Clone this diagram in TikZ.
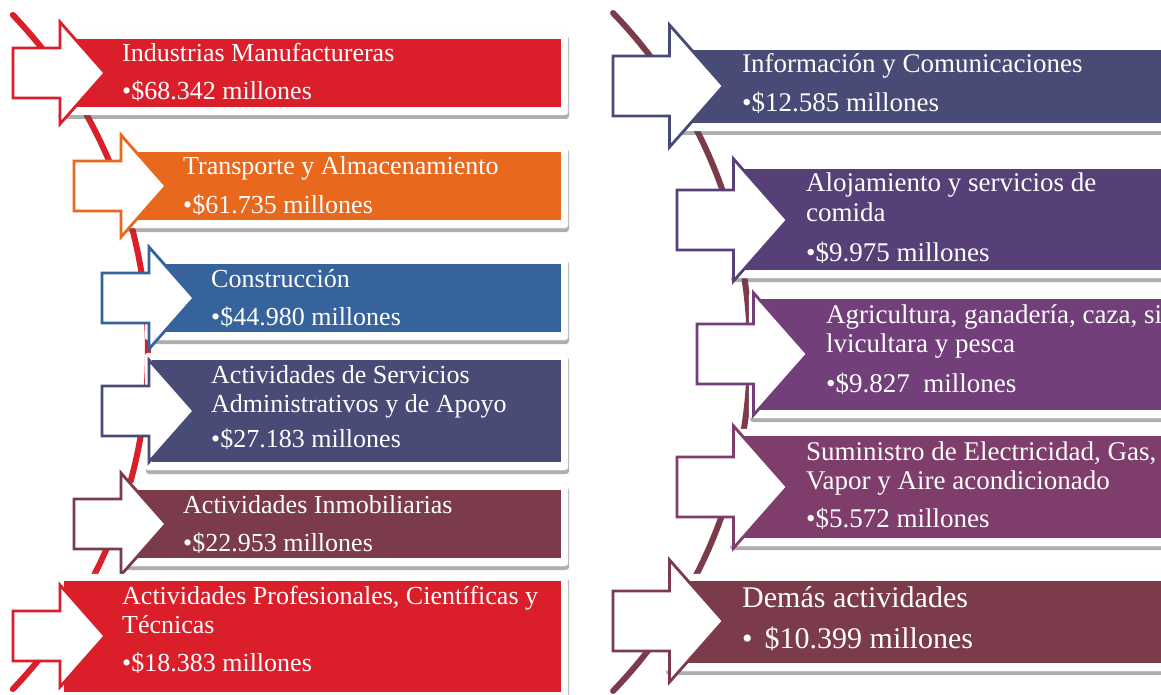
\documentclass[tikz,border=0pt]{standalone}
\usepackage{fontspec}
\setmainfont{Liberation Serif}
\usetikzlibrary{shadows}

\definecolor{redA}{HTML}{DA1F2B}
\definecolor{orangeA}{HTML}{E8681E}
\definecolor{blueA}{HTML}{36639C}
\definecolor{slateA}{HTML}{474B76}
\definecolor{maroonA}{HTML}{7B3B4A}
\definecolor{purpleA}{HTML}{573F78}
\definecolor{purpleB}{HTML}{723F7B}
\definecolor{plumA}{HTML}{7E3D6A}

\tikzset{
  frame/.style={fill=white, draw=black!8, rounded corners=3pt,
    drop shadow={shadow xshift=1pt, shadow yshift=-4pt, opacity=.45, fill=black!70}},
  curve/.style={draw=#1, line width=6pt, line cap=round},
  arr/.style={draw=#1, fill=white, line width=2.8pt},
  sarrow/.pic={
    \path[pic actions] (0,-25) -- (47,-25) -- (47,-51) -- (92,0)
      -- (47,51) -- (47,25) -- (0,25) -- cycle;
  },
  lbl/.style={text=white, anchor=base west, inner sep=0pt,
    font=\fontsize{26}{29}\selectfont},
  rlbl/.style={lbl, font=\fontsize{27}{30}\selectfont},
  big/.style={lbl, font=\fontsize{30}{34}\selectfont}
}

\begin{document}
\begin{tikzpicture}[x=1pt, y=-1pt]
  \useasboundingbox (0,0) rectangle (1161,695);
  \clip (0,0) rectangle (1161,695);

  % the two curves behind the lists
  \draw[curve=redA] (-340,352) ++(-43.7:488pt) arc[start angle=-43.7, end angle=43.7, radius=488pt];
  \draw[curve=maroonA] (262,352) ++(-44:488pt) arc[start angle=-44, end angle=44, radius=488pt];

  % left column
  \draw[frame] (57,32) rectangle (568,115);
  \fill[redA] (64,39) rectangle (561,107);
  \pic[arr=redA] at (13,73) {sarrow};
  \node[lbl] (t1) at (122,62) {Industrias Manufactureras};
  \node[lbl] (v1) at (122,100) {\textbullet\$68.342 millones};

  \draw[frame] (119,145) rectangle (568,228);
  \fill[orangeA] (126,152) rectangle (561,220);
  \pic[arr=orangeA] at (74,186) {sarrow};
  \node[lbl] (t2) at (183,175) {Transporte y Almacenamiento};
  \node[lbl] (v2) at (183,213) {\textbullet\$61.735 millones};

  \draw[frame] (145,257) rectangle (568,340);
  \fill[blueA] (152,264) rectangle (561,332);
  \pic[arr=blueA] at (102,298) {sarrow};
  \node[lbl] (t3) at (211,287) {Construcción};
  \node[lbl] (v3) at (211,325) {\textbullet\$44.980 millones};

  \draw[frame] (145,353) rectangle (568,470);
  \fill[slateA] (152,360) rectangle (561,462);
  \pic[arr=slateA] at (102,411) {sarrow};
  \node[lbl] (t4a) at (211,383) {Actividades de Servicios};
  \node[lbl] (t4b) at (211,412) {Administrativos y de Apoyo};
  \node[lbl] (v4) at (211,447) {\textbullet\$27.183 millones};

  \draw[frame] (119,483) rectangle (568,566);
  \fill[maroonA] (126,490) rectangle (561,558);
  \pic[arr=maroonA] at (74,524) {sarrow};
  \node[lbl] (t5) at (183,513) {Actividades Inmobiliarias};
  \node[lbl] (v5) at (183,551) {\textbullet\$22.953 millones};

  \draw[frame] (57,574) rectangle (568,700);
  \fill[redA] (64,581) rectangle (561,692);
  \pic[arr=redA] at (13,636) {sarrow};
  \node[lbl] (t6a) at (122,604) {Actividades Profesionales, Científicas y};
  \node[lbl] (t6b) at (122,633) {Técnicas};
  \node[lbl] (v6) at (122,671) {\textbullet\$18.383 millones};

  % right column
  \draw[frame] (667,43) rectangle (1180,131);
  \fill[slateA] (674,50) rectangle (1175,123);
  \pic[arr=slateA, scale=1.2] at (613,86) {sarrow};
  \node[rlbl] (t7) at (742,73) {Información y Comunicaciones};
  \node[rlbl] (v7) at (742,112) {\textbullet\$12.585 millones};

  \draw[frame] (730,162) rectangle (1180,278);
  \fill[purpleA] (737,169) rectangle (1175,270);
  \pic[arr=purpleA, scale=1.2] at (677,220) {sarrow};
  \node[rlbl] (t8a) at (806,192) {Alojamiento y servicios de};
  \node[rlbl] (t8b) at (806,221) {comida};
  \node[rlbl] (v8) at (806,261) {\textbullet\$9.975 millones};

  \draw[frame] (749,292) rectangle (1180,418);
  \fill[purpleB] (756,299) rectangle (1175,410);
  \pic[arr=purpleB, scale=1.2] at (697,354) {sarrow};
  \node[rlbl] (t9a) at (826,323) {Agricultura, ganadería, caza, si};
  \node[rlbl] (t9b) at (826,352) {lvicultara y pesca};
  \node[rlbl] (v9) at (826,392) {\textbullet\$9.827\ \ millones};

  \draw[frame] (729,429) rectangle (1180,546);
  \fill[plumA] (736,436) rectangle (1175,538);
  \pic[arr=plumA, scale=1.2] at (677,487) {sarrow};
  \node[rlbl] (t10a) at (806,460) {Suministro de Electricidad, Gas,};
  \node[rlbl] (t10b) at (806,489) {Vapor y Aire acondicionado};
  \node[rlbl] (v10) at (806,527) {\textbullet\$5.572 millones};

  \draw[frame] (665,574) rectangle (1180,671);
  \fill[maroonA] (672,581) rectangle (1175,663);
  \pic[arr=maroonA, scale=1.2] at (613,621) {sarrow};
  \node[big] (t11) at (742,607) {Demás actividades};
  \node[big] (v11) at (742,648) {\textbullet\hspace{12pt}\$10.399 millones};
\end{tikzpicture}
\end{document}
